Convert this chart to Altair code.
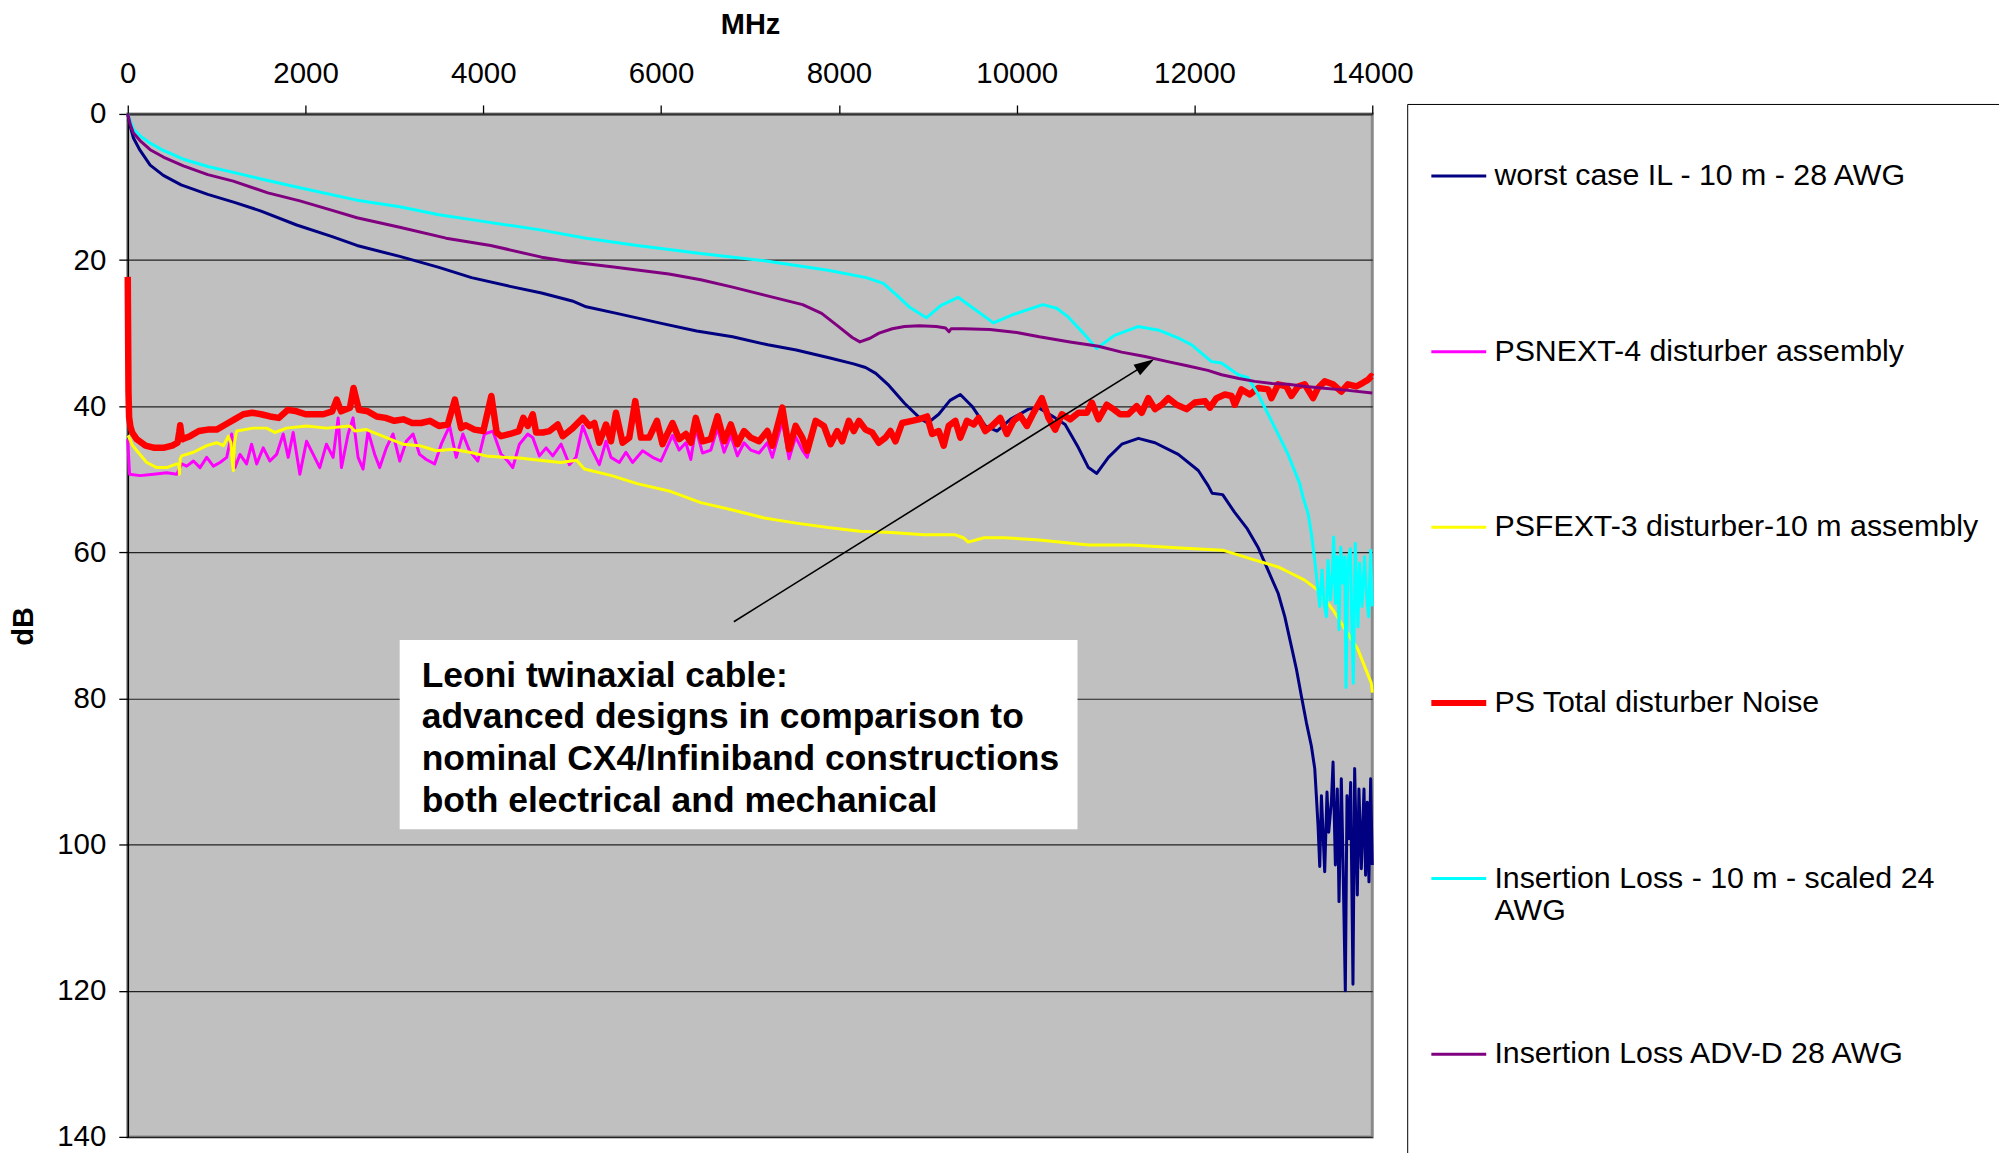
import altair as alt
import pandas as pd

FONT = "Liberation Sans"

SERIES = [
    "worst case IL - 10 m - 28 AWG",
    "PSNEXT-4 disturber assembly",
    "PSFEXT-3 disturber-10 m assembly",
    "PS Total disturber Noise",
    "Insertion Loss - 10 m - scaled 24 AWG",
    "Insertion Loss ADV-D 28 AWG",
]
COLORS = ["#000080", "#FF00FF", "#FFFF00", "#FF0000", "#00FFFF", "#800080"]
WIDTHS = [3, 3, 3, 6.5, 3, 3]

X_TICKS = [0, 2000, 4000, 6000, 8000, 10000, 12000, 14000]
Y_TICKS = [0, 20, 40, 60, 80, 100, 120, 140]

# (MHz, dB) pairs
il28 = [(0, 0), (30, 1.8), (64, 3.3), (139, 5.0), (252, 7.0), (400, 8.4), (600, 9.7), (900, 11.0),
        (1200, 12.1), (1500, 13.3), (1900, 15.2), (2300, 16.8), (2578, 18.0), (3059, 19.5), (3500, 21.0),
        (3867, 22.4), (4300, 23.6), (4655, 24.5), (5000, 25.6), (5157, 26.4), (5500, 27.3), (6016, 28.7),
        (6400, 29.7), (6804, 30.5), (7200, 31.6), (7520, 32.3), (7900, 33.4), (8165, 34.2), (8300, 34.7),
        (8415, 35.5), (8550, 37.0), (8738, 39.6), (8917, 41.7), (9000, 42.3), (9123, 41.1), (9250, 39.2),
        (9366, 38.4), (9497, 40.0), (9647, 42.7), (9778, 43.4), (9928, 41.8), (10134, 40.4), (10246, 40.2),
        (10396, 41.3), (10545, 42.5), (10695, 45.7), (10807, 48.4), (10901, 49.2), (11032, 47.0),
        (11182, 45.2), (11369, 44.4), (11556, 45.0), (11818, 46.6), (12043, 48.8), (12155, 50.9),
        (12198, 51.9), (12317, 52.1), (12450, 54.5), (12595, 56.8), (12714, 59.3), (12794, 61.5),
        (12941, 65.6), (13016, 68.8), (13091, 72.9), (13147, 76.0), (13203, 79.7), (13259, 83.3),
        (13315, 86.5), (13353, 89.6), (13371, 93.3), (13390, 97.4), (13409, 103.0), (13428, 93.3),
        (13465, 103.7), (13491, 92.8), (13510, 98.3), (13540, 94.2), (13559, 88.7), (13585, 102.8),
        (13607, 92.4), (13626, 107.8), (13652, 91.0), (13671, 102.4), (13697, 120.0), (13716, 93.3),
        (13738, 99.2), (13757, 91.5), (13783, 119.1), (13802, 89.6), (13832, 106.9), (13850, 92.4),
        (13877, 103.3), (13907, 92.4), (13925, 104.2), (13944, 94.2), (13963, 105.1), (13982, 91.0),
        (14000, 102.8)]

psfext = [(0, 44.0), (8, 44.1), (50, 45.3), (102, 46.1), (214, 47.7), (326, 48.4), (439, 48.4), (551, 47.9),
          (575, 48.0), (581, 49.3), (590, 47.2), (607, 46.8), (739, 46.3), (888, 45.4), (1001, 45.0),
          (1076, 45.4), (1132, 44.1), (1160, 45.0), (1175, 47.5), (1188, 48.8), (1200, 45.0), (1225, 43.4),
          (1412, 43.0), (1562, 43.0), (1655, 43.6), (1786, 43.0), (2011, 42.7), (2237, 43.0), (2498, 42.7),
          (2554, 43.4), (2684, 43.2), (2909, 44.3), (3096, 45.2), (3283, 45.4), (3471, 46.1), (3658, 45.9),
          (3845, 46.3), (4032, 46.8), (4220, 47.0), (4407, 47.1), (4631, 47.4), (4870, 47.7), (5049, 47.4),
          (5137, 48.6), (5443, 49.5), (5730, 50.6), (6088, 51.6), (6446, 53.2), (6804, 54.2), (7162, 55.3),
          (7520, 56.0), (7878, 56.6), (8236, 57.1), (8594, 57.3), (8953, 57.6), (9311, 57.6), (9400, 58.0),
          (9454, 58.6), (9633, 58.0), (9857, 58.0), (10254, 58.3), (10810, 59.0), (11286, 59.0),
          (11841, 59.4), (12317, 59.7), (12635, 60.9), (12941, 62.0), (13091, 62.9), (13240, 63.8),
          (13390, 65.2), (13559, 67.9), (13652, 69.7), (13746, 71.5), (13839, 73.3), (13914, 75.6),
          (13989, 77.9), (14000, 79.2)]

ps_total = [(0, 22.3), (8, 38.0), (15, 41.5), (30, 42.8), (50, 43.6), (100, 44.5), (200, 45.4), (300, 45.7),
            (400, 45.7), (500, 45.4), (560, 45.0), (580, 43.5), (590, 42.6), (605, 44.0), (620, 44.5),
            (700, 44.1), (800, 43.4), (900, 43.2), (1000, 43.2), (1100, 42.5), (1200, 41.8), (1300, 41.1),
            (1400, 40.9), (1500, 41.1), (1600, 41.4), (1700, 41.6), (1800, 40.5), (1900, 40.7), (2000, 41.1),
            (2100, 41.1), (2200, 41.1), (2300, 40.7), (2350, 39.1), (2400, 40.7), (2500, 40.2), (2540, 37.5),
            (2600, 40.5), (2700, 40.7), (2800, 41.4), (2900, 41.6), (3000, 42.0), (3100, 41.8), (3200, 42.3),
            (3300, 42.3), (3400, 42.0), (3500, 42.7), (3600, 42.5), (3680, 39.1), (3750, 43.0), (3800, 42.6),
            (3900, 43.2), (4000, 43.4), (4090, 38.6), (4150, 43.6), (4200, 44.1), (4300, 43.8), (4400, 43.4),
            (4450, 41.6), (4500, 42.7), (4556, 41.1), (4594, 43.6), (4669, 43.6), (4744, 43.4), (4837, 42.5),
            (4893, 44.1), (5006, 43.0), (5118, 41.6), (5193, 42.7), (5249, 42.3), (5305, 45.0), (5380, 42.5),
            (5436, 44.8), (5492, 40.9), (5567, 45.0), (5642, 44.3), (5709, 39.3), (5773, 44.3), (5866, 44.3),
            (5953, 42.0), (6016, 45.2), (6128, 42.3), (6203, 44.5), (6278, 43.8), (6334, 45.0), (6390, 41.6),
            (6465, 44.8), (6559, 44.5), (6634, 41.4), (6709, 44.8), (6784, 42.5), (6858, 45.2), (6933, 43.4),
            (7008, 44.3), (7102, 44.8), (7195, 43.4), (7251, 45.4), (7364, 40.2), (7439, 45.9), (7513, 42.7),
            (7588, 44.3), (7644, 46.1), (7738, 42.0), (7831, 42.7), (7906, 45.2), (7981, 43.4), (8037, 44.8),
            (8112, 42.0), (8168, 43.4), (8225, 42.0), (8300, 43.2), (8374, 43.6), (8449, 45.0), (8524, 44.3),
            (8580, 43.4), (8636, 44.8), (8711, 42.3), (8823, 42.0), (8898, 41.8), (8992, 41.4), (9048, 43.8),
            (9123, 43.4), (9179, 45.4), (9235, 42.7), (9310, 42.0), (9366, 44.3), (9441, 42.0), (9516, 42.5),
            (9572, 41.6), (9647, 43.4), (9722, 42.7), (9815, 41.6), (9890, 43.8), (9965, 42.0), (10040, 41.3),
            (10115, 42.7), (10190, 40.9), (10283, 38.9), (10358, 41.6), (10433, 43.2), (10508, 41.1),
            (10601, 41.8), (10695, 40.9), (10789, 40.9), (10845, 39.5), (10920, 41.8), (11013, 39.8),
            (11088, 40.4), (11163, 41.1), (11256, 41.1), (11350, 40.0), (11406, 40.9), (11481, 38.9),
            (11556, 40.4), (11631, 39.8), (11706, 38.9), (11799, 39.8), (11911, 40.4), (12005, 39.5),
            (12117, 39.3), (12174, 40.2), (12248, 38.9), (12342, 38.4), (12417, 38.6), (12454, 39.8),
            (12529, 37.7), (12623, 38.4), (12716, 37.5), (12829, 37.7), (12866, 38.9), (12941, 37.0),
            (13034, 37.3), (13091, 38.6), (13165, 37.3), (13240, 37.0), (13334, 38.9), (13390, 37.5),
            (13465, 36.6), (13558, 37.0), (13652, 38.0), (13727, 37.0), (13820, 37.3), (13895, 36.8),
            (13951, 36.4), (13989, 35.9), (14000, 36.0)]

# visible part of PSNEXT; above ~7740 MHz it lies under the PS Total trace
psnext_visible = [(0, 44.5), (10, 47.0), (20, 49.3), (139, 49.5), (289, 49.3), (439, 49.1), (551, 49.3),
                  (607, 47.9), (663, 48.2), (739, 47.5), (813, 48.4), (888, 47.0), (963, 48.2), (1038, 47.7),
                  (1113, 47.0), (1169, 43.8), (1206, 48.4), (1262, 46.6), (1337, 47.9), (1393, 45.2),
                  (1450, 47.9), (1524, 45.7), (1599, 47.5), (1674, 46.6), (1749, 43.8), (1805, 47.0),
                  (1861, 43.6), (1936, 49.3), (2011, 44.8), (2086, 46.6), (2160, 48.4), (2235, 45.2),
                  (2310, 47.0), (2367, 41.6), (2404, 48.4), (2479, 43.8), (2535, 41.6), (2591, 47.0),
                  (2647, 48.6), (2703, 43.4), (2778, 46.6), (2834, 48.4), (2909, 45.7), (2984, 43.8),
                  (3059, 47.5), (3134, 44.8), (3209, 43.8), (3283, 46.6), (3358, 47.3), (3452, 47.9),
                  (3527, 45.2), (3620, 42.7), (3695, 47.0), (3770, 43.8), (3845, 46.1), (3938, 47.5),
                  (4013, 43.8), (4107, 43.4), (4200, 46.6), (4275, 47.5), (4331, 48.4), (4406, 45.2),
                  (4500, 43.8), (4556, 44.3), (4631, 46.8), (4706, 45.7), (4781, 46.8), (4875, 45.2),
                  (4968, 48.0), (5043, 47.0), (5118, 42.7), (5211, 45.7), (5305, 48.0), (5380, 44.8),
                  (5436, 47.0), (5530, 47.7), (5604, 46.3), (5679, 47.7), (5792, 46.1), (5904, 47.0),
                  (5998, 47.5), (6128, 44.0), (6203, 46.0), (6278, 45.0), (6334, 47.3), (6390, 43.0),
                  (6465, 46.4), (6559, 46.0), (6634, 43.0), (6709, 46.3), (6784, 44.0), (6858, 46.8),
                  (6933, 45.0), (7008, 46.0), (7102, 46.4), (7195, 45.0), (7251, 47.0), (7364, 42.0),
                  (7439, 47.2), (7513, 44.2), (7588, 46.0), (7644, 47.0), (7738, 42.0)]

il24 = [(0, 0), (30, 1.0), (64, 2.1), (150, 3.1), (252, 4.0), (400, 5.0), (626, 6.2), (900, 7.2), (1187, 8.0),
        (1500, 8.9), (1936, 10.1), (2578, 11.8), (3059, 12.7), (3500, 13.8), (3939, 14.6), (4655, 15.9),
        (5157, 17.0), (5730, 18.0), (6446, 19.1), (7162, 20.1), (7878, 21.4), (8308, 22.4), (8500, 23.2),
        (8650, 24.8), (8800, 26.5), (8984, 27.9), (9150, 26.2), (9341, 25.1), (9500, 26.5), (9738, 28.6),
        (9950, 27.5), (10294, 26.1), (10450, 26.6), (10571, 27.7), (10750, 30.0), (10900, 32.1),
        (11100, 30.3), (11365, 29.1), (11600, 29.6), (11841, 30.8), (11968, 31.6), (12192, 33.9),
        (12305, 34.1), (12492, 35.7), (12604, 36.1), (12716, 38.4), (12866, 42.0), (13053, 46.6),
        (13184, 50.6), (13222, 52.5), (13278, 54.7), (13315, 57.4), (13353, 61.1), (13390, 65.2),
        (13409, 67.4), (13435, 62.4), (13457, 67.0), (13484, 68.8), (13502, 61.1), (13529, 66.5),
        (13551, 62.9), (13566, 57.9), (13585, 67.0), (13607, 60.6), (13626, 70.6), (13645, 59.3),
        (13671, 64.2), (13690, 60.6), (13705, 78.5), (13727, 61.1), (13753, 59.5), (13772, 70.6),
        (13787, 77.9), (13809, 58.8), (13839, 70.2), (13858, 61.5), (13884, 67.4), (13914, 60.6),
        (13937, 66.1), (13959, 68.8), (13982, 59.7), (14000, 67.4)]

adv_d = [(0, 0), (30, 1.5), (64, 2.6), (150, 3.8), (252, 4.9), (400, 5.9), (626, 7.1), (900, 8.3), (1187, 9.2),
         (1576, 10.8), (1936, 11.9), (2300, 13.2), (2578, 14.2), (3059, 15.5), (3581, 17.0), (4082, 18.0),
         (4655, 19.6), (5013, 20.3), (5443, 20.9), (6088, 21.9), (6446, 22.7), (6804, 23.7), (7162, 24.8),
         (7592, 26.1), (7806, 27.3), (7986, 29.0), (8150, 30.6), (8236, 31.2), (8350, 30.7), (8451, 30.0),
         (8600, 29.4), (8738, 29.1), (8905, 29.0), (9095, 29.1), (9200, 29.3), (9239, 29.8), (9262, 29.4),
         (9400, 29.4), (9698, 29.5), (10000, 29.9), (10254, 30.5), (10600, 31.2), (10920, 31.8),
         (11180, 32.6), (11444, 33.2), (11700, 33.9), (11930, 34.5), (12150, 35.1), (12305, 35.7),
         (12500, 36.2), (12679, 36.6), (12873, 36.9), (13053, 37.0), (13250, 37.3), (13427, 37.5),
         (13700, 37.8), (14000, 38.2)]

psnext = psnext_visible + [p for p in ps_total if p[0] > psnext_visible[-1][0]]

SERIES_DATA = [il28, psnext, psfext, ps_total, il24, adv_d]

# annotation (in data units)
BOX_MHZ = [3059, 10684]
BOX_DB = [72.0, 97.9]
NOTE_MHZ = 3307
NOTE_DB = 76.9
NOTE_LINES = ["Leoni twinaxial cable:",
              "advanced designs in comparison to",
              "nominal CX4/Infiniband constructions",
              "both electrical and mechanical"]
ARROW_FROM = (6818, 69.5)
ARROW_TO = (11449, 34.3)
ARROW_ANGLE = 58

rows = []
for name, pts in zip(SERIES, SERIES_DATA):
    for mhz, db in pts:
        rows.append({"series": name, "mhz": mhz, "db": db})
df = pd.DataFrame(rows)

xscale = alt.Scale(domain=[0, 14000], nice=False, zero=False)
yscale = alt.Scale(domain=[0, 140], nice=False, reverse=True)

xaxis = alt.Axis(orient="top", values=X_TICKS, format="d", title="MHz",
                 titleFont=FONT, titleFontSize=29, titleFontWeight="bold", titleColor="black",
                 titleY=-90, titleBaseline="middle",
                 labelFont=FONT, labelFontSize=29.5, labelColor="black", labelPadding=16,
                 labelFlush=False, labelOverlap=False,
                 tickSize=9, tickColor="black", tickWidth=1.3,
                 domainColor="#333333", domainWidth=2, grid=False)
yaxis = alt.Axis(orient="left", values=Y_TICKS, format="d", title="dB",
                 titleFont=FONT, titleFontSize=29, titleFontWeight="bold", titleColor="black",
                 titleAngle=270, titleX=-104, titleY=513, titleAlign="center", titleBaseline="middle",
                 labelFont=FONT, labelFontSize=29.5, labelColor="black", labelPadding=13,
                 labelFlush=False, labelOverlap=False,
                 tickSize=9, tickColor="black", tickWidth=1.3,
                 domainColor="black", domainWidth=1.5,
                 grid=True, gridColor="#222222", gridWidth=1.2)

IL24_NAME = SERIES[4]
ADV_NAME = SERIES[5]
legend = alt.Legend(
    orient="none", legendX=1282, legendY=-10,
    title=" ", titleFontSize=20, titlePadding=15,
    padding=22, strokeColor="black", fillColor="white",
    symbolType="stroke", symbolSize=3025, symbolOffset=14.5,
    symbolStrokeWidth={"expr": "datum.value == 'PS Total disturber Noise' ? 6 : 3"},
    labelFont=FONT, labelFontSize=30.4, labelColor="black", labelLimit=800, labelOffset=20.5,
    rowPadding=113,
    labelExpr=(f"datum.label == '{IL24_NAME}' ? ['Insertion Loss - 10 m - scaled 24', 'AWG'] : "
               f"datum.label == '{ADV_NAME}' ? [datum.label, ' ', ' ', ' ', ' '] : [datum.label, ' ']"),
)

layers = []
for name, w in zip(SERIES, WIDTHS):
    layers.append(
        alt.Chart(df).transform_filter(alt.datum.series == name)
        .mark_line(strokeWidth=w, strokeJoin="round")
        .encode(
            x=alt.X("mhz:Q", scale=xscale, axis=xaxis),
            y=alt.Y("db:Q", scale=yscale, axis=yaxis),
            color=alt.Color("series:N", scale=alt.Scale(domain=SERIES, range=COLORS), legend=legend),
        )
    )

box_df = pd.DataFrame({"x": [BOX_MHZ[0]], "x2": [BOX_MHZ[1]], "y": [BOX_DB[0]], "y2": [BOX_DB[1]]})
box = alt.Chart(box_df).mark_rect(fill="white").encode(
    x=alt.X("x:Q", scale=xscale), x2="x2:Q", y=alt.Y("y:Q", scale=yscale), y2="y2:Q")

note_df = pd.DataFrame({"x": [NOTE_MHZ], "y": [NOTE_DB]})
note = alt.Chart(note_df).mark_text(
    text=NOTE_LINES, align="left", baseline="middle", font=FONT, fontSize=35.5,
    fontWeight="bold", color="black", lineHeight=41.7
).encode(x=alt.X("x:Q", scale=xscale), y=alt.Y("y:Q", scale=yscale))

arrow_df = pd.DataFrame({"x": [ARROW_FROM[0]], "y": [ARROW_FROM[1]],
                         "x2": [ARROW_TO[0]], "y2": [ARROW_TO[1]]})
arrow_line = alt.Chart(arrow_df).mark_rule(color="black", strokeWidth=1.6).encode(
    x=alt.X("x:Q", scale=xscale), y=alt.Y("y:Q", scale=yscale), x2="x2:Q", y2="y2:Q")
head_df = pd.DataFrame({"x": [ARROW_TO[0]], "y": [ARROW_TO[1]]})
arrow_head = alt.Chart(head_df).mark_point(
    shape="M0,-1L-0.6,1L0.6,1Z", filled=True, color="black", opacity=1, size=420, angle=ARROW_ANGLE
).encode(x=alt.X("x:Q", scale=xscale), y=alt.Y("y:Q", scale=yscale))

chart = alt.layer(*layers, box, note, arrow_line, arrow_head).properties(
    width=1247, height=1025,
    autosize=alt.AutoSizeParams(type="none"),
    padding={"left": 120, "top": 105, "right": 628, "bottom": 15},
    background="white",
).configure_view(fill="#C0C0C0", stroke="#8A8A8A", strokeWidth=3)

chart.save("out.html", embed_options={"renderer": "svg", "actions": False})
